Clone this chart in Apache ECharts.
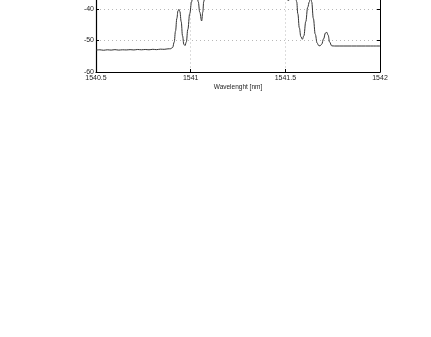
<!DOCTYPE html>
<html>
<head>
<meta charset="utf-8">
<script src="https://cdn.jsdelivr.net/npm/echarts@6/dist/echarts.min.js"></script>
<style>
html,body{margin:0;padding:0;background:#fff;overflow:hidden;width:431px;height:337px;}
#chart{position:absolute;left:0;top:-90px;width:431px;height:427px;}
</style>
</head>
<body>
<div id="chart"></div>
<script>
// Wavelength [nm]
var wavelength = [
  1540.50, 1540.52, 1540.54, 1540.56, 1540.58, 1540.60, 1540.62, 1540.64, 1540.66, 1540.68,
  1540.70, 1540.72, 1540.74, 1540.76, 1540.78, 1540.80, 1540.82, 1540.84, 1540.86, 1540.88,
  1540.895, 1540.905, 1540.913, 1540.920, 1540.927, 1540.933, 1540.938, 1540.943, 1540.950, 1540.957,
  1540.964, 1540.970, 1540.977, 1540.985, 1540.995, 1541.005, 1541.015, 1541.022, 1541.030, 1541.040,
  1541.048, 1541.058, 1541.064, 1541.069, 1541.080, 1541.095, 1541.110, 1541.130, 1541.150, 1541.180,
  1541.210, 1541.240, 1541.270, 1541.300, 1541.330, 1541.360, 1541.400, 1541.440, 1541.470, 1541.500,
  1541.516, 1541.530, 1541.542, 1541.552, 1541.560, 1541.566, 1541.574, 1541.582, 1541.590, 1541.598,
  1541.608, 1541.618, 1541.627, 1541.633, 1541.639, 1541.648, 1541.658, 1541.668, 1541.676, 1541.683,
  1541.692, 1541.702, 1541.712, 1541.719, 1541.726, 1541.734, 1541.745, 1541.760, 1541.850, 1541.950,
  1542.00
];
// Power [dBm]
var power = [
  -53.05, -52.95, -53.10, -52.95, -53.05, -52.90, -53.05, -52.95, -53.00, -52.90,
  -53.00, -52.85, -52.95, -52.85, -52.95, -52.80, -52.90, -52.75, -52.80, -52.65,
  -52.60, -52.20, -50.50, -47.00, -43.00, -40.60, -40.10, -40.80, -44.00, -48.50,
  -51.20, -51.60, -50.50, -46.50, -41.50, -37.70, -33.00, -31.00, -33.00, -37.70,
  -41.00, -43.80, -41.00, -37.70, -32.00, -27.00, -30.00, -34.00, -28.00, -22.00,
  -26.00, -20.00, -18.00, -22.00, -19.00, -24.00, -21.00, -26.00, -30.00, -34.00,
  -37.40, -34.00, -32.00, -35.00, -37.70, -41.50, -46.00, -48.80, -49.60, -48.50,
  -44.00, -39.50, -37.70, -35.00, -37.70, -43.00, -48.00, -50.80, -51.60, -51.70,
  -51.20, -49.50, -47.60, -47.40, -48.30, -50.50, -51.70, -51.75, -51.75, -51.75,
  -51.75
];
var xTicks = [1540.5, 1541, 1541.5, 1542];
var yTicks = [-60, -50, -40, -30, -20, -10];

var data = wavelength.map(function (w, i) { return [w, power[i]]; });

var chart = echarts.init(document.getElementById('chart'), null, {renderer: 'canvas'});
var fontFam = '"Liberation Sans", Arial, sans-serif';
var gridLine = {show: true, lineStyle: {color: '#b8b8b8', type: [1, 3], width: 1}};
var plain = function (v) { return String(v); };
chart.setOption({
  animation: false,
  backgroundColor: '#ffffff',
  grid: {left: 96, right: 51, top: 4.5, bottom: 265, containLabel: false},
  xAxis: [{
    type: 'value',
    min: xTicks[0], max: xTicks[xTicks.length - 1], interval: 0.5,
    name: 'Wavelenght [nm]', nameLocation: 'middle', nameGap: 12,
    nameTextStyle: {fontSize: 6.5, color: '#222', fontFamily: fontFam},
    axisLine: {show: true, onZero: false, lineStyle: {color: '#000', width: 1.2}},
    axisTick: {show: true, inside: true, length: 3, lineStyle: {color: '#000'}},
    axisLabel: {fontSize: 7, color: '#222', margin: 3, fontFamily: fontFam, formatter: plain},
    splitLine: gridLine
  }, {
    type: 'value', position: 'top',
    min: xTicks[0], max: xTicks[xTicks.length - 1], interval: 0.5,
    axisLine: {show: true, onZero: false, lineStyle: {color: '#000', width: 1}},
    axisTick: {show: true, inside: true, length: 3, lineStyle: {color: '#000'}},
    axisLabel: {show: false}, splitLine: {show: false}
  }],
  yAxis: [{
    type: 'value',
    min: yTicks[0], max: yTicks[yTicks.length - 1], interval: 10,
    axisLine: {show: true, onZero: false, lineStyle: {color: '#000', width: 1.2}},
    axisTick: {show: true, inside: true, length: 3, lineStyle: {color: '#000'}},
    axisLabel: {fontSize: 7, color: '#222', margin: 2, fontFamily: fontFam, formatter: plain},
    splitLine: gridLine
  }, {
    type: 'value', position: 'right',
    min: yTicks[0], max: yTicks[yTicks.length - 1], interval: 10,
    axisLine: {show: true, onZero: false, lineStyle: {color: '#000', width: 1}},
    axisTick: {show: true, inside: true, length: 3, lineStyle: {color: '#000'}},
    axisLabel: {show: false}, splitLine: {show: false}
  }],
  series: [{
    type: 'line',
    data: data,
    xAxisIndex: 0, yAxisIndex: 0,
    showSymbol: false,
    smooth: 0.4,
    smoothMonotone: 'x',
    lineStyle: {color: '#333', width: 1},
    clip: true
  }]
});
</script>
</body>
</html>
